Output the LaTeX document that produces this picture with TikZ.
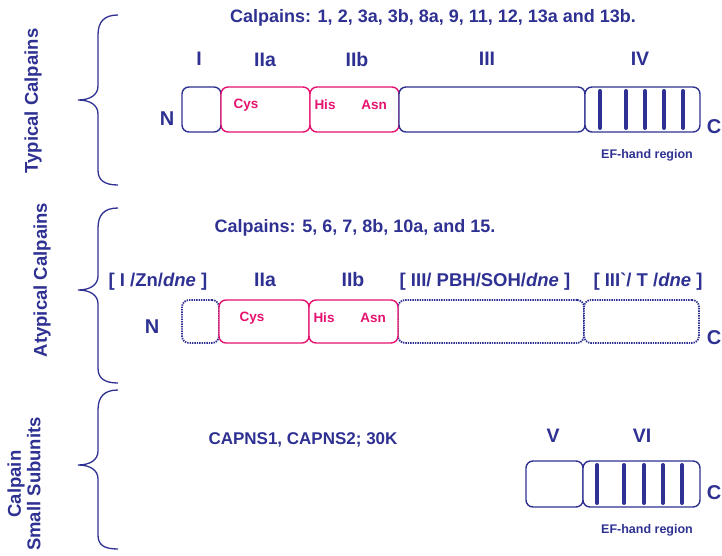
\documentclass[tikz,border=0pt]{standalone}
\usepackage{fontspec}
\setmainfont{Liberation Sans}
\definecolor{navy}{HTML}{2E3192}
\definecolor{pinkc}{HTML}{E5126F}
\tikzset{
  x=1pt, y=-1pt,
  dom/.style={draw=navy, line width=1.4pt, rounded corners=7pt, fill=white, inner sep=0pt, outer sep=0pt},
  pdom/.style={dom, draw=pinkc},
  ddom/.style={dom, densely dotted, line width=1.8pt},
  bar/.style={draw=navy, line width=4pt, line cap=round},
  lbl/.style={text=navy, font=\bfseries\fontsize{18.5}{20}\selectfont, inner sep=0pt},
  endl/.style={text=navy, font=\bfseries\fontsize{20}{22}\selectfont, inner sep=0pt},
  rom/.style={text=navy, font=\bfseries\fontsize{19.5}{21}\selectfont, inner sep=0pt},
  ttl/.style={text=navy, font=\bfseries\fontsize{18}{20}\selectfont, inner sep=0pt},
  res/.style={text=pinkc, font=\bfseries\fontsize{13.5}{15}\selectfont, inner sep=0pt},
  ef/.style={text=navy, font=\bfseries\fontsize{12.5}{14}\selectfont, inner sep=0pt},
  side/.style={text=navy, font=\bfseries\fontsize{18.5}{20}\selectfont, inner sep=0pt, rotate=90, align=center},
  brace/.style={draw=navy, line width=1.3pt}
}
\begin{document}
\begin{tikzpicture}
\useasboundingbox (0,0) rectangle (722,556);
% side labels
\node[side] (sT) at (33,101) {Typical Calpains};
\node[side] (sA) at (42,280) {Atypical Calpains};
\node[side, font=\bfseries\fontsize{18.5}{19.5}\selectfont] (sS) at (24,484) {Calpain\\Small Subunits};
% braces
\draw[brace] (118,15) .. controls (104,15) and (98,22) .. (98,35) -- (98,86) .. controls (98,95) and (90,100) .. (78,100) .. controls (90,100) and (98,105) .. (98,114) -- (98,170) .. controls (98,180) and (104,185) .. (118,185);
\draw[brace] (118,208) .. controls (104,208) and (98,215) .. (98,228) -- (98,276) .. controls (98,285) and (90,290) .. (78,290) .. controls (90,290) and (98,295) .. (98,304) -- (98,368) .. controls (98,378) and (104,383) .. (118,383);
\draw[brace] (118,390) .. controls (104,390) and (98,397) .. (98,410) -- (98,451) .. controls (98,460) and (90,465) .. (78,465) .. controls (90,465) and (98,470) .. (98,479) -- (98,535) .. controls (98,545) and (104,549) .. (118,549);

% ---- Typical
\node[ttl] (tt) at (433,18) {Calpains: 1, 2, 3a, 3b, 8a, 9, 11, 12, 13a and 13b.};
\node[dom, minimum width=39pt, minimum height=45pt] (t1) at (201.5,109.5) {};
\node[pdom, minimum width=89pt, minimum height=45pt] (t2a) at (265.5,109.5) {};
\node[pdom, minimum width=89pt, minimum height=45pt] (t2b) at (354.5,109.5) {};
\node[dom, minimum width=186pt, minimum height=45pt] (t3) at (492,109.5) {};
\node[dom, minimum width=115pt, minimum height=45pt] (t4) at (642.5,109.5) {};
\foreach \bx in {600,626,645,664,683} \draw[bar] (\bx,91) -- (\bx,128);
\node[rom] (tI) at (199,59) {I};
\node[rom] (tIIa) at (265,60) {IIa};
\node[rom] (tIIb) at (357,60) {IIb};
\node[rom] (tIII) at (487,59) {III};
\node[rom] (tIV) at (640,59) {IV};
\node[endl] (tN) at (167,119) {N};
\node[endl] (tC) at (714,127) {C};
\node[res] (tcys) at (246,105) {Cys};
\node[res] (this) at (325,105) {His};
\node[res] (tasn) at (374,105) {Asn};
\node[ef] (tef) at (647,155) {EF-hand region};

% ---- Atypical
\node[ttl] (at) at (355,228) {Calpains: 5, 6, 7, 8b, 10a, and 15.};
\node[ddom, minimum width=37pt, minimum height=43pt] (a1) at (200.5,321.5) {};
\node[ddom, minimum width=186pt, minimum height=43pt] (a3) at (491,321.5) {};
\node[ddom, minimum width=115pt, minimum height=43pt] (a4) at (641.5,321.5) {};
\node[pdom, minimum width=90pt, minimum height=43pt] (a2a) at (264,321.5) {};
\node[pdom, minimum width=89pt, minimum height=43pt] (a2b) at (353.5,321.5) {};
\node[lbl] (aI) at (158,282) {[ I /Zn/\textit{dne} ]};
\node[rom] (aIIa) at (265,280) {IIa};
\node[rom] (aIIb) at (353,280) {IIb};
\node[lbl] (aIII) at (485,282) {[ III/ PBH/SOH/\textit{dne} ]};
\node[lbl] (aIV) at (648,282) {[ III\textasciigrave/ T /\textit{dne} ]};
\node[endl] (aN) at (152,327) {N};
\node[endl] (aC) at (714,338) {C};
\node[res] (acys) at (252,318) {Cys};
\node[res] (ahis) at (324,318) {His};
\node[res] (aasn) at (373,318) {Asn};

% ---- Small subunits
\node[ttl, font=\bfseries\fontsize{17}{19}\selectfont] (st) at (303,440) {CAPNS1, CAPNS2; 30K};
\node[dom, minimum width=57pt, minimum height=46pt] (s5) at (554.5,484) {};
\node[dom, minimum width=117pt, minimum height=46pt] (s6) at (641.5,484) {};
\foreach \bx in {597,624,644,663,682} \draw[bar] (\bx,465) -- (\bx,503);
\node[rom] (sV) at (553,436) {V};
\node[rom] (sVI) at (642,436) {VI};
\node[endl] (sC) at (714,493) {C};
\node[ef] (sef) at (647,530) {EF-hand region};
\end{tikzpicture}
\end{document}
